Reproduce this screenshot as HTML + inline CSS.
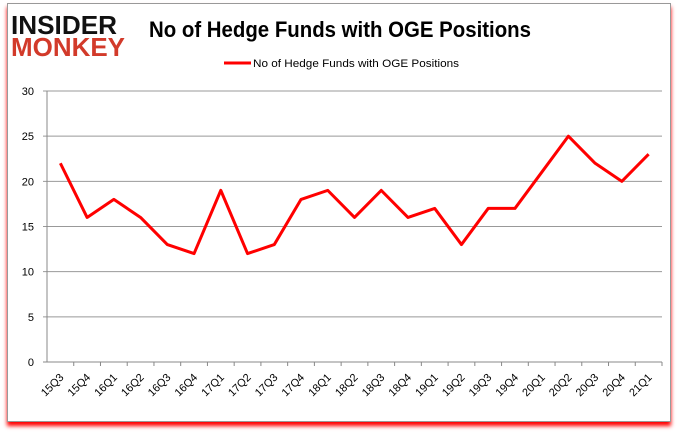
<!DOCTYPE html>
<html><head><style>
body{margin:0;width:680px;height:433px;background:#fff;overflow:hidden;font-family:"Liberation Sans",sans-serif}
#frame{position:absolute;left:7px;top:3px;width:662px;height:417px;border:1px solid #999;background:#fff;box-shadow:0 4px 4px #f00}
</style></head><body>
<div id="frame"></div>
<svg id="c" width="680" height="433" style="position:absolute;left:0;top:0">
<g font-family="Liberation Sans" font-weight="bold" font-size="26">
<text x="11" y="34" fill="#111" textLength="106" lengthAdjust="spacingAndGlyphs">INSIDER</text>
<text x="11" y="56" fill="#d23a2a" textLength="114" lengthAdjust="spacingAndGlyphs">MONKEY</text>
</g>
<text x="149" y="37" font-size="22" font-weight="bold" fill="#000" textLength="382" lengthAdjust="spacingAndGlyphs">No of Hedge Funds with OGE Positions</text>
<line x1="224" y1="63" x2="251" y2="63" stroke="#f00" stroke-width="3"/>
<text x="253" y="67" font-size="11" fill="#000" textLength="206" lengthAdjust="spacingAndGlyphs">No of Hedge Funds with OGE Positions</text>
<g id="grid"></g><g id="axes"></g><path id="line" fill="none" stroke="#f00" stroke-width="3" stroke-linejoin="round"/>
</svg>
<script>
const categories=["15Q3","15Q4","16Q1","16Q2","16Q3","16Q4","17Q1","17Q2","17Q3","17Q4","18Q1","18Q2","18Q3","18Q4","19Q1","19Q2","19Q3","19Q4","20Q1","20Q2","20Q3","20Q4","21Q1"];
const values=[22,16,18,16,13,12,19,12,13,18,19,16,19,16,17,13,17,17,21,25,22,20,23];
const yTicks=[0,5,10,15,20,25,30];
const NS="http://www.w3.org/2000/svg";
const x0=47,x1=662,y0=362,y1=91;
const bw=(x1-x0)/categories.length;
const xs=i=>x0+bw*(i+0.5);
const ys=v=>y0-(v/30)*(y0-y1);
function mk(t,a,p){const e=document.createElementNS(NS,t);for(const k in a)e.setAttribute(k,a[k]);p.appendChild(e);return e;}
const g=document.getElementById('grid'),ax=document.getElementById('axes');
yTicks.forEach(v=>{
 const l=mk('line',{x1:x0-4,x2:x1,y1:ys(v),y2:ys(v),stroke:v===0?'#888':'#999','stroke-width':1},g);
 
 
 const t=mk('text',{x:x0-13,y:ys(v)+4,'text-anchor':'end','font-size':11,fill:'#000'},ax);
 t.textContent=v;
 
 
});
const yl=mk('line',{x1:x0,x2:x0,y1:y1,y2:y0,stroke:'#888'},ax);


categories.forEach((c,i)=>{
 const tk=mk('line',{x1:x0+bw*(i+1),x2:x0+bw*(i+1),y1:y0,y2:y0+4,stroke:'#888'},ax);
 
 
 const x=xs(i)+4,y=y0+16;
 const t=mk('text',{x:x,y:y,'text-anchor':'end','font-size':11,fill:'#000',transform:`rotate(-45 ${x} ${y})`},ax);
 t.textContent=c;
 
 
});
document.getElementById('line').setAttribute('d',values.map((v,i)=>(i?'L':'M')+xs(i)+' '+ys(v)).join(' '));
</script>
</body></html>
